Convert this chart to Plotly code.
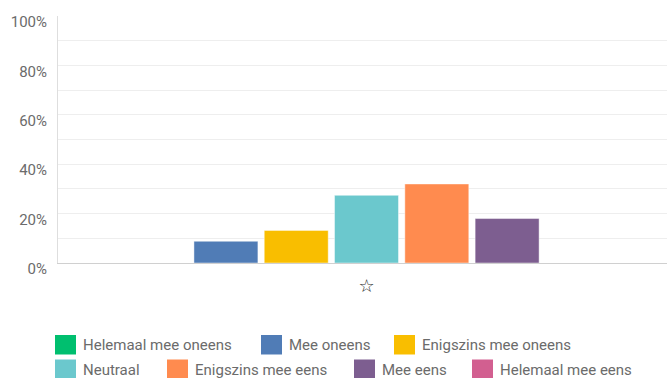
import plotly.graph_objects as go

# Survey answer categories, share of respondents and bar colours
categories = [
    "Helemaal mee oneens",
    "Mee oneens",
    "Enigszins mee oneens",
    "Neutraal",
    "Enigszins mee eens",
    "Mee eens",
    "Helemaal mee eens",
]
shares = [0.0, 0.088, 0.132, 0.274, 0.320, 0.180, 0.0]
colors = ["#00BF6F", "#507CB6", "#F9BE00", "#6BC8CD", "#FF8B4F", "#7D5E90", "#D25F90"]
question_label = ["☆"]
y_ticks = [0, 0.2, 0.4, 0.6, 0.8, 1.0]
y_minor_grid = [0.1, 0.2, 0.3, 0.4, 0.5, 0.6, 0.7, 0.8, 0.9]

W, H = 667, 378
ML, MR, MT, MB = 58, 0, 16, 115
PLOT_W = W - ML - MR
PLOT_H = H - MT - MB

FONT = "Roboto, 'Noto Sans', sans-serif"
TEXT_GREY = "#6b6b6b"

fig = go.Figure()
for name, val, col in zip(categories, shares, colors):
    fig.add_trace(go.Bar(
        x=question_label,
        y=[val],
        name=name,
        marker=dict(color=col, line=dict(color="rgba(255,255,255,0.45)", width=1)),
        showlegend=False,
        hovertemplate="%{y:.0%}<extra>" + name + "</extra>",
    ))


def px_x(px):
    return (px - ML) / PLOT_W


def px_y(py):
    return (H - MB - py) / PLOT_H


# Custom two-row legend: swatch left edges (pixels) and row per entry
legend_left = [55, 261, 394, 55, 167, 354, 472]
legend_row = [0, 0, 0, 1, 1, 1, 1]
row_top = [335, 359.5]
swatch_w, swatch_h = 21, 19.5

shapes = []
annotations = []
for name, col, lx, row in zip(categories, colors, legend_left, legend_row):
    top = row_top[row]
    shapes.append(dict(
        type="rect", xref="paper", yref="paper",
        x0=px_x(lx), x1=px_x(lx + swatch_w),
        y0=px_y(top + swatch_h), y1=px_y(top),
        fillcolor=col, line=dict(width=0), layer="above",
    ))
    annotations.append(dict(
        xref="paper", yref="paper",
        x=px_x(lx + swatch_w + 5), y=px_y(top + 10),
        xanchor="left", yanchor="middle",
        text=name, showarrow=False,
        font=dict(family=FONT, size=15, color=TEXT_GREY),
    ))

fig.update_layout(
    width=W, height=H,
    margin=dict(l=ML, r=MR, t=MT, b=MB),
    paper_bgcolor="white", plot_bgcolor="white",
    barmode="group", bargap=0.192, bargroupgap=0.09,
    showlegend=False,
    shapes=shapes, annotations=annotations,
    font=dict(family=FONT),
    xaxis=dict(
        type="category",
        range=[-0.5066, 0.4934],
        showgrid=False, zeroline=False,
        showline=True, linecolor="#d0d0d0", linewidth=1,
        ticks="", ticklabelstandoff=6,
        tickfont=dict(family="DejaVu Sans", size=18, color="#1f1f1f"),
        fixedrange=True,
    ),
    yaxis=dict(
        range=[0, 1],
        tickvals=y_ticks, tickformat=".0%",
        showgrid=False, zeroline=False,
        showline=True, linecolor="#dedede", linewidth=1,
        ticks="", ticklabelstandoff=7, ticklabelshift=6,
        tickfont=dict(family=FONT, size=15, color=TEXT_GREY),
        minor=dict(tickmode="array", tickvals=y_minor_grid, showgrid=True,
                   gridcolor="#eeeeee", gridwidth=1, ticks=""),
        fixedrange=True,
    ),
)

fig.write_html("out.html", config={"displayModeBar": False})
